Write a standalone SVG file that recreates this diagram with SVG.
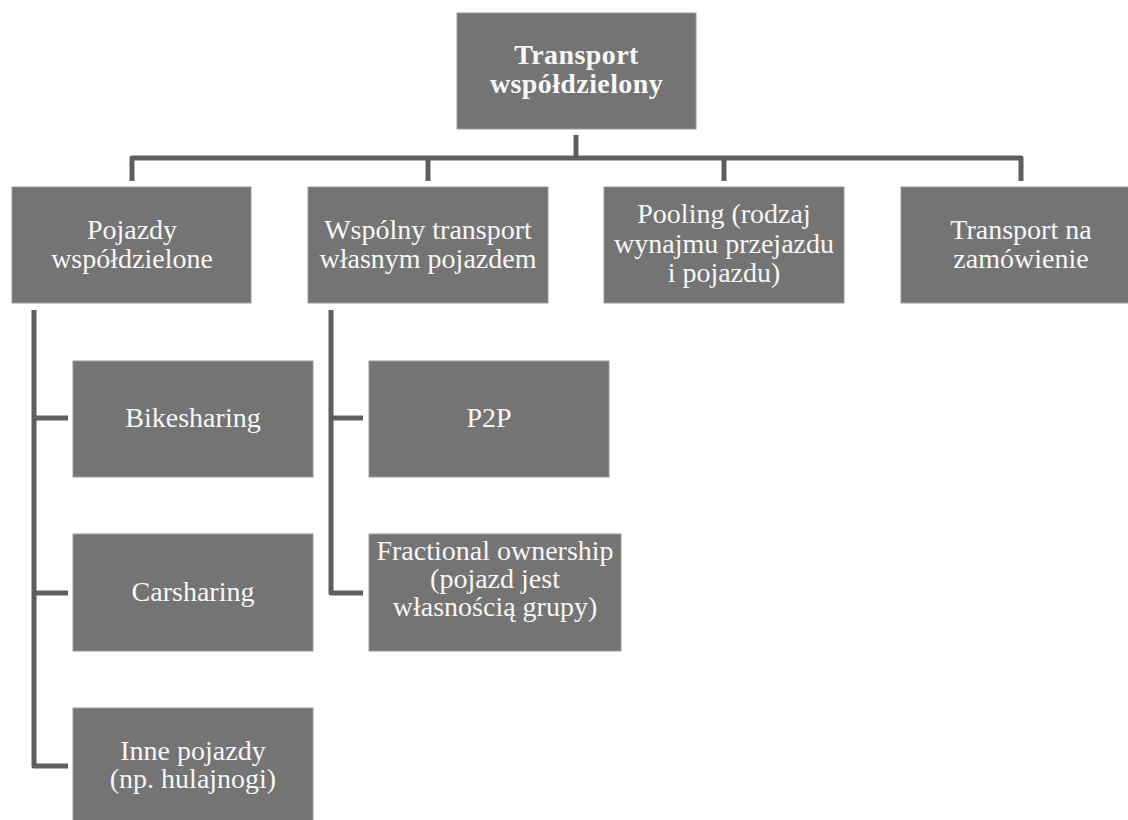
<svg xmlns="http://www.w3.org/2000/svg" width="1128" height="820" viewBox="0 0 1128 820">
<style>
.box{fill:#747474;stroke:#9a9a9a;stroke-width:1}
.t{font-family:"Liberation Serif","Times New Roman",serif;font-size:28px;fill:#f7f7f7;text-anchor:middle}
.b{font-weight:bold;letter-spacing:0.4px}
.c{fill:none;stroke:#5e5e5e;stroke-width:5;stroke-linejoin:round;stroke-linecap:butt}
</style>
<rect width="1128" height="820" fill="#ffffff"/>
<g id="connectors">
<path class="c" d="M576,135 V158"/>
<path class="c" d="M132,181 V158 H1021 V181"/>
<path class="c" d="M428,158 V181"/>
<path class="c" d="M724,158 V181"/>
<path class="c" d="M34,310 V766 H68"/>
<path class="c" d="M34,418 H68"/>
<path class="c" d="M34,593 H68"/>
<path class="c" d="M331,310 V593 H363"/>
<path class="c" d="M331,418 H363"/>
</g>
<g id="root">
<rect class="box" x="457" y="13" width="239" height="116"/>
<text class="t b" x="576.5" y="64">Transport</text>
<text class="t b" x="576.5" y="93">współdzielony</text>
</g>
<g id="pojazdy">
<rect class="box" x="12" y="187" width="239" height="116"/>
<text class="t" x="132" y="239">Pojazdy</text>
<text class="t" x="132" y="268">współdzielone</text>
</g>
<g id="wspolny">
<rect class="box" x="308" y="187" width="240" height="116"/>
<text class="t" x="428" y="239">Wspólny transport</text>
<text class="t" x="428" y="268">własnym pojazdem</text>
</g>
<g id="pooling">
<rect class="box" x="604" y="187" width="240" height="116"/>
<text class="t" x="724" y="223">Pooling (rodzaj</text>
<text class="t" x="724" y="253">wynajmu przejazdu</text>
<text class="t" x="724" y="282">i pojazdu)</text>
</g>
<g id="zamowienie">
<rect class="box" x="901" y="187" width="240" height="116"/>
<text class="t" x="1021" y="239">Transport na</text>
<text class="t" x="1021" y="268">zamówienie</text>
</g>
<g id="bikesharing">
<rect class="box" x="73" y="361" width="240" height="116"/>
<text class="t" x="193" y="427">Bikesharing</text>
</g>
<g id="carsharing">
<rect class="box" x="73" y="534" width="240" height="117"/>
<text class="t" x="193" y="601">Carsharing</text>
</g>
<g id="inne">
<rect class="box" x="73" y="708" width="240" height="116"/>
<text class="t" x="193" y="760">Inne pojazdy</text>
<text class="t" x="193" y="788">(np. hulajnogi)</text>
</g>
<g id="p2p">
<rect class="box" x="369" y="361" width="240" height="116"/>
<text class="t" x="489" y="427">P2P</text>
</g>
<g id="fractional">
<rect class="box" x="369" y="534" width="252" height="117"/>
<text class="t" x="495" y="560">Fractional ownership</text>
<text class="t" x="495" y="588">(pojazd jest</text>
<text class="t" x="495" y="616">własnością grupy)</text>
</g>
</svg>
